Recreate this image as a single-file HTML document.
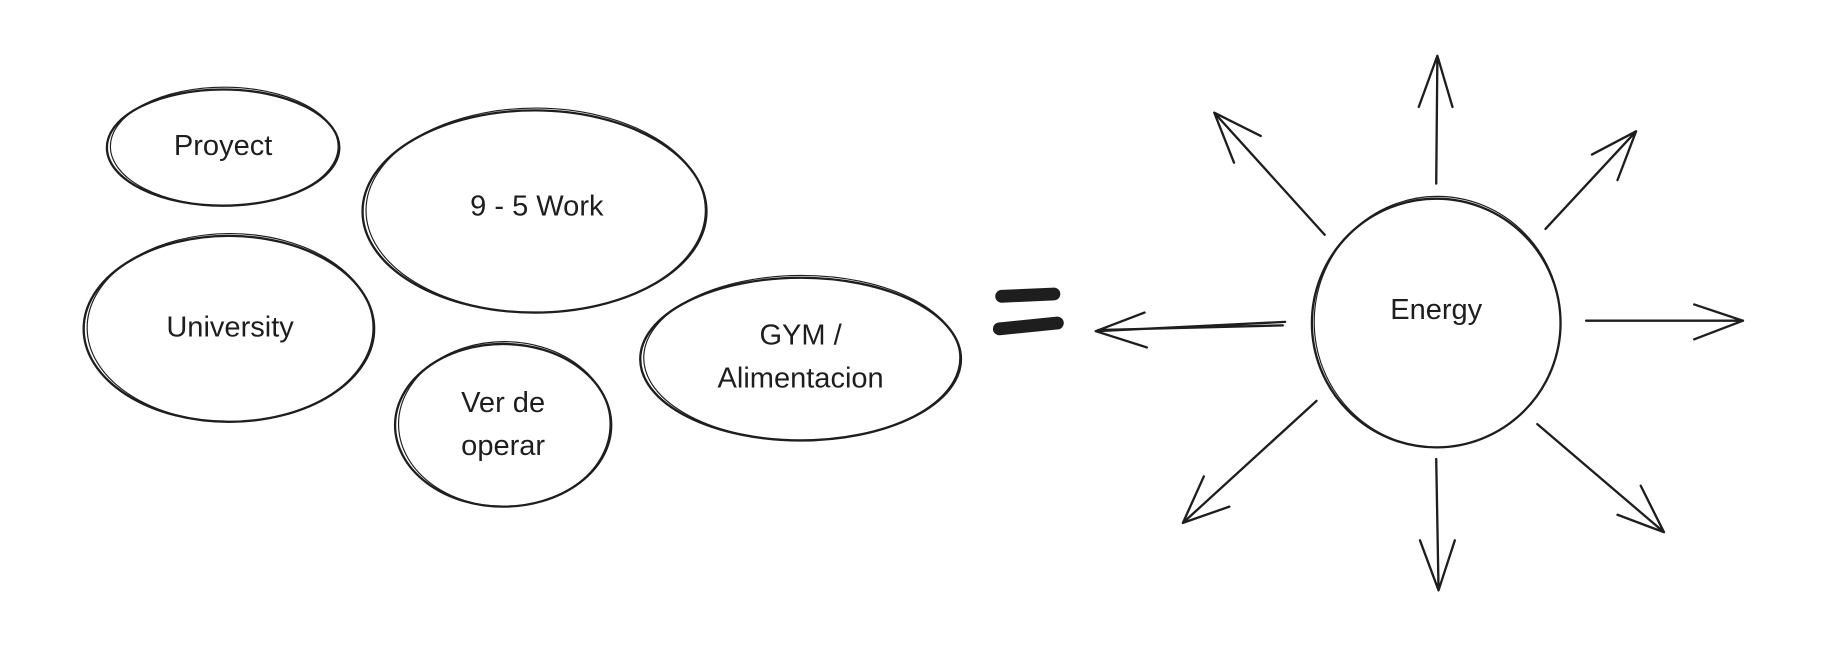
<!DOCTYPE html>
<html><head><meta charset="utf-8"><style>
html,body{margin:0;padding:0;background:#fff;}
svg{display:block;}
text{font-family:"Liberation Sans",sans-serif;font-size:25px;fill:#1e1e1e;text-anchor:middle;dominant-baseline:middle;}
</style></head><body>
<svg width="1822" height="672" viewBox="0 0 1568 578.3" xmlns="http://www.w3.org/2000/svg">
<rect width="1568" height="578.3" fill="#fff"/>
<g fill="none" stroke="#1e1e1e" stroke-width="2" stroke-linecap="round">
<ellipse cx="192" cy="127" rx="100" ry="50"/>
<ellipse cx="193" cy="126" rx="98" ry="51" stroke-width="1"/>
<ellipse cx="460" cy="182" rx="148" ry="87"/>
<ellipse cx="461" cy="181" rx="146" ry="88" stroke-width="1"/>
<ellipse cx="197" cy="283" rx="125" ry="80"/>
<ellipse cx="198" cy="282" rx="123" ry="81" stroke-width="1"/>
<ellipse cx="433" cy="366" rx="93" ry="70"/>
<ellipse cx="434" cy="365" rx="91" ry="71" stroke-width="1"/>
<ellipse cx="689" cy="309" rx="138" ry="70"/>
<ellipse cx="690" cy="308" rx="136" ry="71" stroke-width="1"/>
<circle cx="1236" cy="278" r="107"/>
<ellipse cx="1237" cy="277" rx="106" ry="108" stroke-width="1"/>
<path d="M1106 277 L943 285 M1104 280 L945 284 M943 285 L985 269 M943 285 L987 299"/>
<path d="M1236 158 L1237 48 M1237 48 L1221 92 M1237 48 L1250 92"/>
<path d="M1140 202 L1045 97 M1045 97 L1062 140 M1045 97 L1085 117"/>
<path d="M1330 197 L1408 113 M1408 113 L1370 133 M1408 113 L1392 155"/>
<path d="M1365 276 L1500 276 M1500 276 L1458 262 M1500 276 L1458 292"/>
<path d="M1133 345 L1018 450 M1018 450 L1036 410 M1018 450 L1058 436"/>
<path d="M1236 395 L1238 508 M1238 508 L1222 465 M1238 508 L1252 465"/>
<path d="M1323 365 L1432 458 M1432 458 L1412 418 M1432 458 L1392 443"/>
</g>
<g stroke="#1e1e1e" stroke-width="11" stroke-linecap="round" fill="none">
<path d="M862 255 L907 253"/>
<path d="M860 283 L910 278"/>
</g>
<text x="192" y="127">Proyect</text>
<text x="462" y="179">9 - 5 Work</text>
<text x="198" y="283">University</text>
<text x="433" y="348">Ver de</text>
<text x="433" y="385">operar</text>
<text x="689" y="290">GYM /</text>
<text x="689" y="327">Alimentacion</text>
<text x="1236" y="268">Energy</text>
</svg>
</body></html>
